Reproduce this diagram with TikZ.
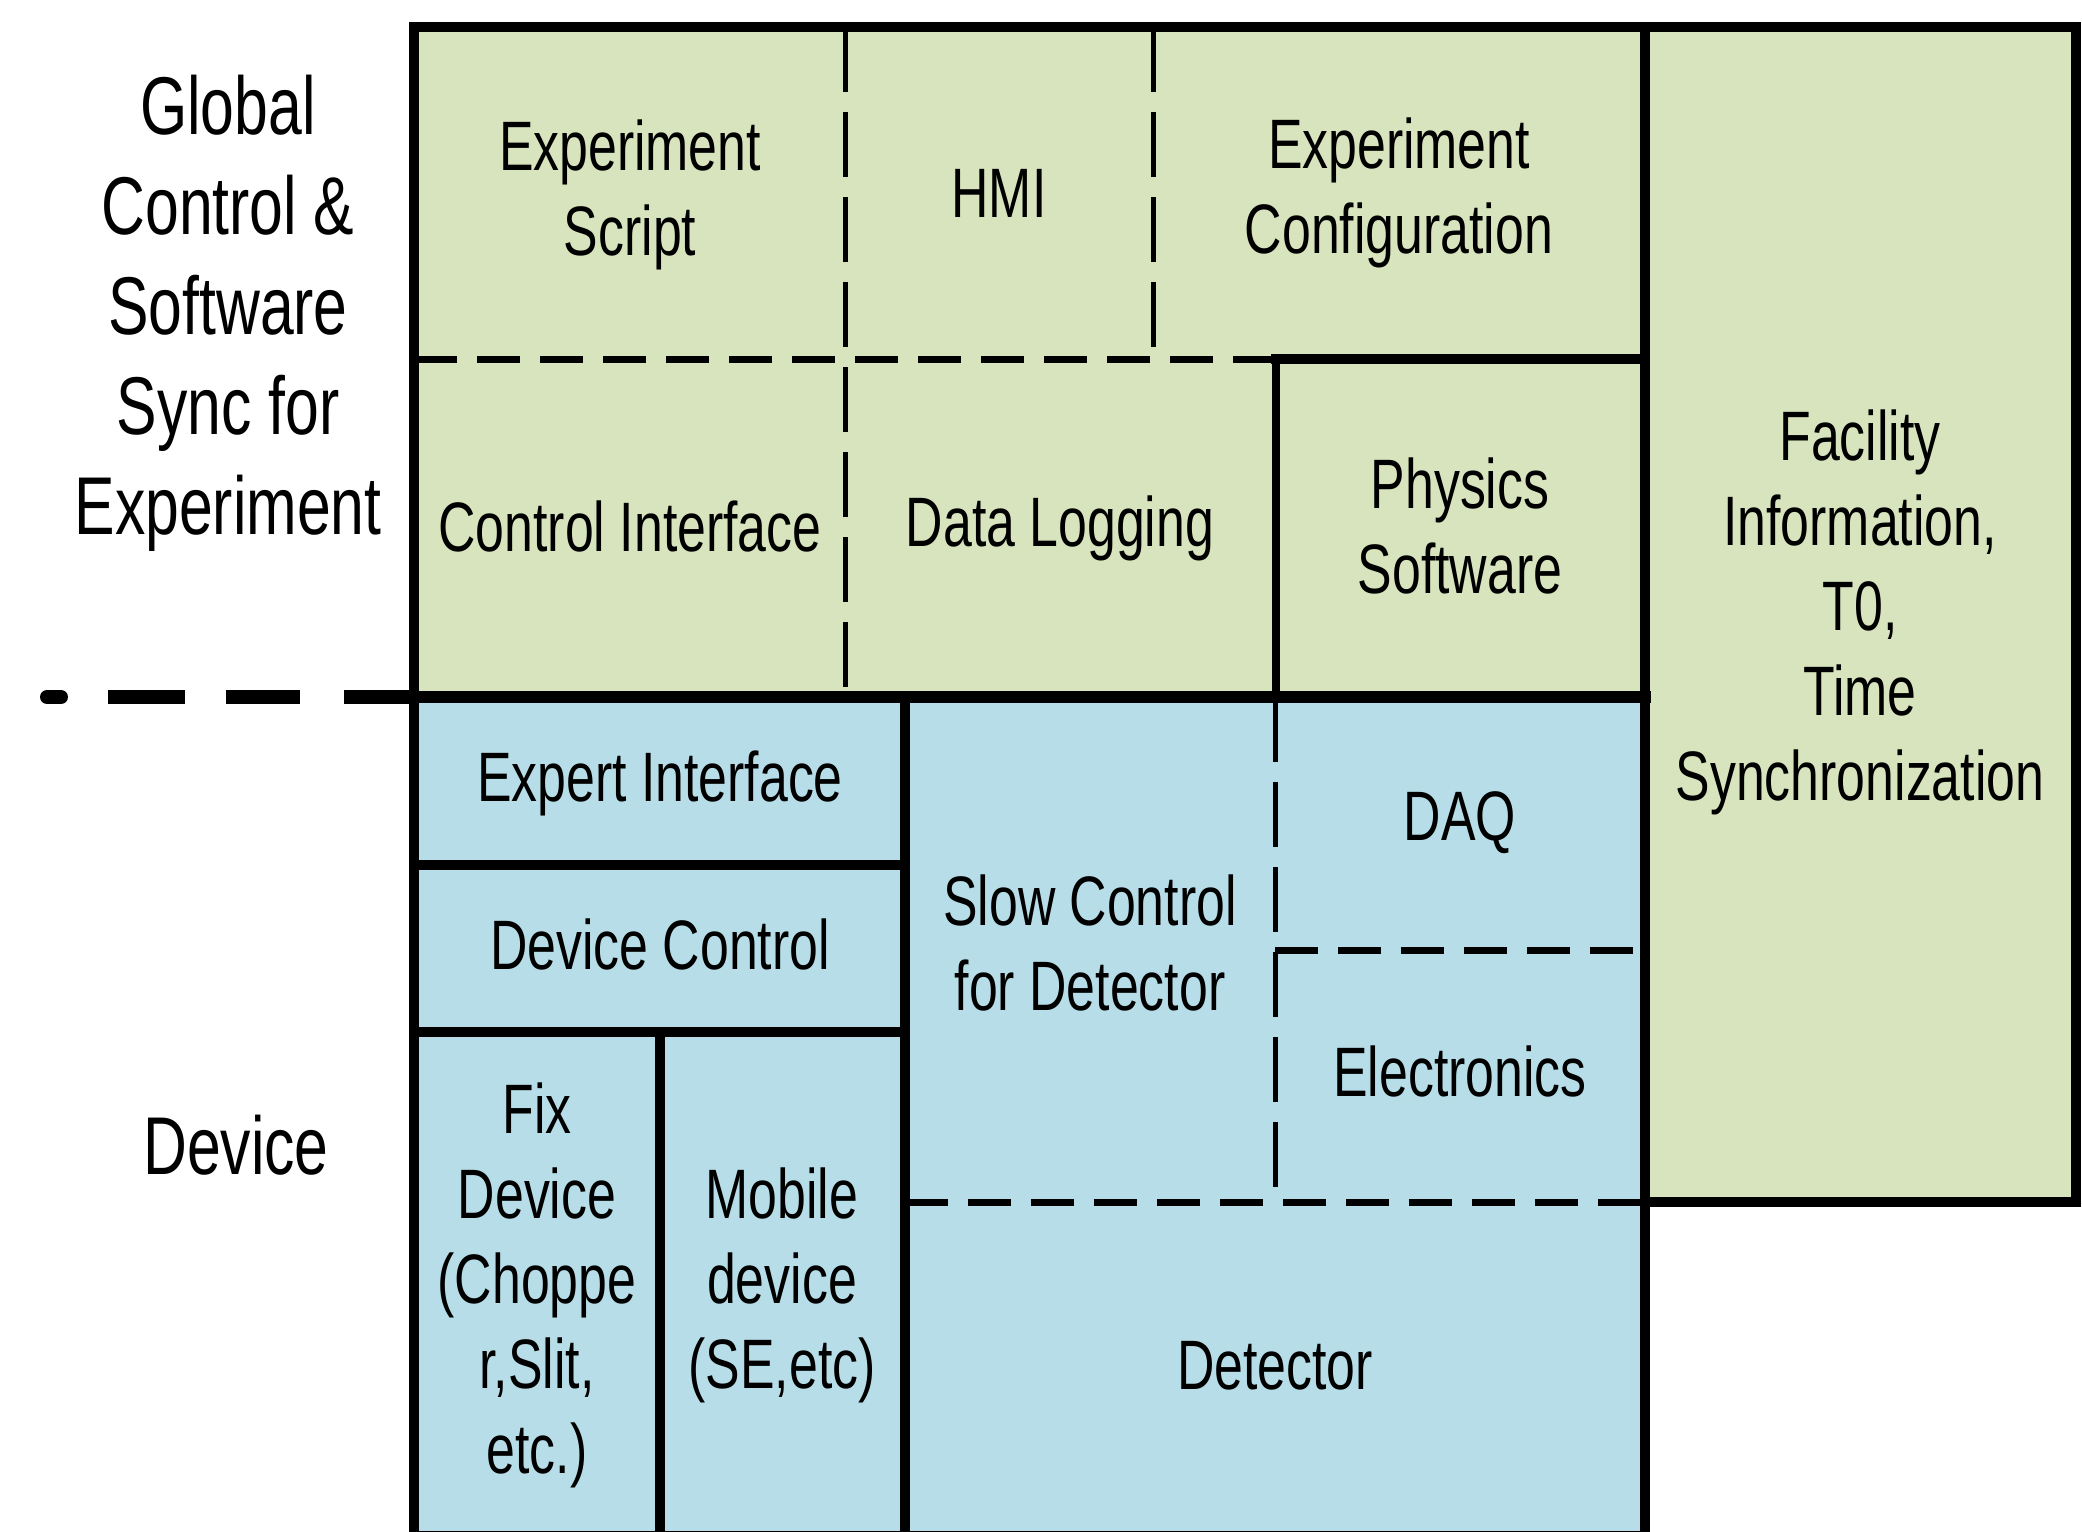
\documentclass[tikz,border=0pt]{standalone}
\usepackage{fontspec}
\setmainfont[FakeStretch=0.74]{Liberation Sans}
\definecolor{cellgreen}{HTML}{D7E4BD}
\definecolor{cellblue}{HTML}{B7DEE8}
\begin{document}
\begin{tikzpicture}[x=1pt,y=-1pt,
  wall/.style={line width=10pt, line cap=rect},
  hdash/.style={line width=7pt, dash pattern=on 43pt off 20pt},
  vdash/.style={line width=5pt, dash pattern=on 65pt off 20pt},
  lbl/.style={align=center, font=\fontsize{70}{85}\selectfont, inner sep=0pt},
  side/.style={align=center, font=\fontsize{82}{100}\selectfont, inner sep=0pt}]
\useasboundingbox (0,0) rectangle (2082,1531);
\fill[white] (0,0) rectangle (2082,1531);

% layer fills
\fill[cellgreen] (414,27) rectangle (2076,697);
\fill[cellgreen] (1645,27) rectangle (2076,1202);
\fill[cellblue] (414,697) rectangle (1645,1531);

% soft borders between cells
\draw[vdash] (845,27) -- (845,697);
\draw[vdash] (1153,27) -- (1153,359);
\draw[hdash] (414,359) -- (1276,359);
\draw[vdash] (1275,697) -- (1275,1202);
\draw[hdash] (1275,950) -- (1645,950);
\draw[hdash] (905,1202) -- (1645,1202);

% hard borders
\draw[wall] (414,1536) -- (414,27) -- (2076,27) -- (2076,1202) -- (1645,1202);
\draw[wall] (1645,27) -- (1645,1536);
\draw[wall] (414,1536) -- (1645,1536);
\draw[wall, line width=12pt] (414,697) -- (1645,697);
\draw[wall, line width=8pt] (1276,697) -- (1276,359);
\draw[wall] (1276,359) -- (1645,359);
\draw[wall] (414,865) -- (905,865);
\draw[wall] (414,1032) -- (905,1032);
\draw[wall] (905,697) -- (905,1536);
\draw[wall] (660,1032) -- (660,1536);

% layer divider to the left
\draw[line width=14pt] (411,697) -- (344,697) (300,697) -- (226,697) (185,697) -- (108,697);
\draw[line width=14pt, line cap=round] (61,697) -- (47,697);

% layer names
\node[side] (global) at (228,313) {Global\\Control \&\\Software\\Sync for\\Experiment};
\node[side] (device) at (236,1145) {Device};

% cells of the upper layer
\node[lbl] (script) at (630,195) {Experiment\\Script};
\node[lbl] (hmi) at (999,193) {HMI};
\node[lbl] (config) at (1399,193) {Experiment\\Configuration};
\node[lbl] (ctrl) at (630,526) {Control Interface};
\node[lbl] (log) at (1060,528) {Data Logging};
\node[lbl] (phys) at (1460,526) {Physics\\Software};
\node[lbl] (facility) at (1860,612) {Facility\\Information,\\T0,\\Time\\Synchronization};

% cells of the device layer
\node[lbl] (expert) at (660,783) {Expert Interface};
\node[lbl] (devctrl) at (660,944) {Device Control};
\node[lbl] (fix) at (537,1285) {Fix\\Device\\(Choppe\\r,Slit,\\etc.)};
\node[lbl] (mobile) at (782,1285) {Mobile\\device\\(SE,etc)};
\node[lbl] (slow) at (1090,943) {Slow Control\\for Detector};
\node[lbl] (daq) at (1460,823) {DAQ};
\node[lbl] (elec) at (1460,1071) {Electronics};
\node[lbl] (det) at (1275,1366) {Detector};
\end{tikzpicture}
\end{document}
